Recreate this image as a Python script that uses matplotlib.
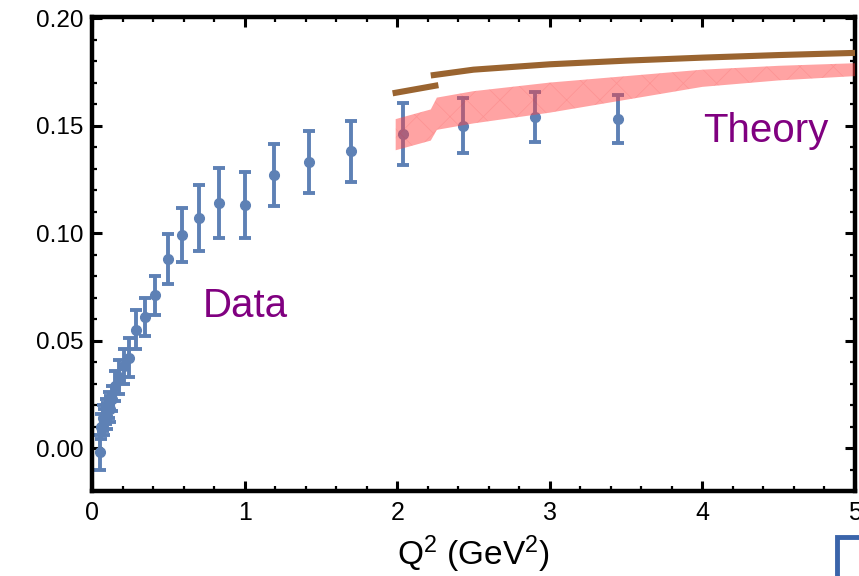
import matplotlib
matplotlib.use("Agg")
import matplotlib.pyplot as plt
from matplotlib.patches import Rectangle
from matplotlib.ticker import MultipleLocator

plt.rcParams['font.family'] = ['Liberation Sans', 'DejaVu Sans']
plt.rcParams['mathtext.fontset'] = 'custom'
plt.rcParams['mathtext.rm'] = 'Liberation Sans'
plt.rcParams['mathtext.it'] = 'Liberation Sans:italic'
plt.rcParams['hatch.linewidth'] = 0.5

# Data points (Q^2, value, error)
q2 = [0.05, 0.06, 0.07, 0.08, 0.09, 0.10, 0.11, 0.12, 0.13, 0.15, 0.18, 0.21,
      0.24, 0.29, 0.35, 0.41, 0.50, 0.59, 0.70, 0.83, 1.00, 1.19, 1.42, 1.70,
      2.04, 2.43, 2.90, 3.45]
vals = [-0.002, 0.010, 0.014, 0.012, 0.017, 0.015, 0.020, 0.018, 0.023, 0.029,
        0.033, 0.038, 0.042, 0.055, 0.061, 0.071, 0.088, 0.099, 0.107, 0.114,
        0.113, 0.127, 0.133, 0.138, 0.146, 0.150, 0.154, 0.153]
errs = [0.008, 0.006, 0.006, 0.006, 0.006, 0.006, 0.006, 0.006, 0.006, 0.007,
        0.008, 0.008, 0.009, 0.009, 0.009, 0.009, 0.0115, 0.0125, 0.0155, 0.0163,
        0.0153, 0.0142, 0.0146, 0.0142, 0.0143, 0.0126, 0.0115, 0.0111]

# Theory band
band_q2 = [1.99, 2.22, 2.26, 2.5, 3.0, 3.5, 4.0, 4.5, 5.0]
band_hi = [0.1530, 0.1575, 0.1630, 0.1660, 0.1700, 0.1730, 0.1760, 0.1778, 0.1790]
band_lo = [0.1385, 0.1430, 0.1480, 0.1510, 0.1560, 0.1620, 0.1680, 0.1710, 0.1730]

# Brown theory curves
line1_q2 = [1.97, 2.27]
line1_v = [0.1650, 0.1688]
line2_q2 = [2.22, 2.5, 3.0, 3.5, 4.0, 4.5, 5.0]
line2_v = [0.1733, 0.1760, 0.1785, 0.1802, 0.1816, 0.1828, 0.1838]

xticks = [0, 1, 2, 3, 4, 5]
yticks = [0.00, 0.05, 0.10, 0.15, 0.20]

fig = plt.figure(figsize=(8.59, 5.76), dpi=100)
ax = fig.add_axes([92/859, 1-491/576, (855-92)/859, (491-17)/576])

blue = '#5E81B5'
ax.errorbar(q2, vals, yerr=errs, fmt='o', color=blue, ms=7, elinewidth=2.8,
            capsize=4.2, capthick=2.8, zorder=2)

ax.fill_between(band_q2, band_lo, band_hi, facecolor=(1, 0.25, 0.25, 0.48),
                edgecolor=(0.95, 0.1, 0.1, 0.12), hatch='x', linewidth=0, zorder=3)

brown = '#9A6430'
ax.plot(line1_q2, line1_v, color=brown, lw=4.4, solid_capstyle='butt', zorder=4)
ax.plot(line2_q2, line2_v, color=brown, lw=4.4, solid_capstyle='butt', zorder=4)

ax.text(0.727, 0.0609, 'Data', color='#800080', fontsize=29, ha='left', va='baseline')
ax.text(4.006, 0.1425, 'Theory', color='#800080', fontsize=29, ha='left', va='baseline')

ax.set_xlim(0, 5)
ax.set_ylim(-0.02, 0.2005)
ax.set_xticks(xticks)
ax.set_xticklabels([str(t) for t in xticks])
ax.set_yticks(yticks)
ax.set_yticklabels([f'{t:.2f}' for t in yticks])
ax.xaxis.set_minor_locator(MultipleLocator(0.2))
ax.yaxis.set_minor_locator(MultipleLocator(0.01))
ax.tick_params(which='both', direction='in', top=True, right=True, color='black')
ax.tick_params(which='major', length=7, width=2.2)
ax.tick_params(which='minor', length=3.5, width=1.6)
ax.tick_params(axis='y', which='major', labelsize=17.5, pad=6)
ax.tick_params(axis='x', which='major', labelsize=18, pad=7)
for s in ax.spines.values():
    s.set_linewidth(3.2)

ax.set_xlabel('Q$^{\\mathrm{2}}$ (GeV$^{\\mathrm{2}}$)', fontsize=24, labelpad=6)

# bottom-right blue frame corner visible in the reference
fig.patches.append(Rectangle((837/859, -0.1), 0.2, (576-537)/576 + 0.1,
                             transform=fig.transFigure, fill=False,
                             edgecolor='#3A64AA', linewidth=3.5))

fig.savefig('out.png', dpi=100)
